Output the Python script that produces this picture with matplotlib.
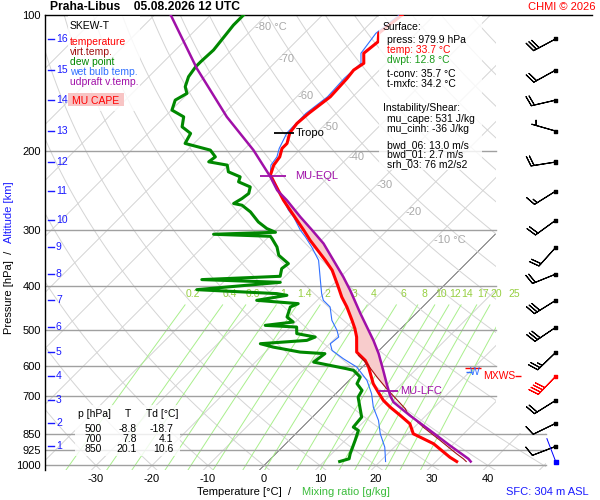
import numpy as np
import matplotlib
matplotlib.use("Agg")
import matplotlib.pyplot as plt
from matplotlib import transforms
from matplotlib.path import Path
from matplotlib.patches import Rectangle

plt.rcParams['font.family'] = ['Liberation Sans', 'DejaVu Sans']

# ---------------------------------------------------------------
# sounding data
# ---------------------------------------------------------------
temp_p = np.array([979.9, 958.5, 894.8, 850.4, 808.0, 774.3, 742.0, 717.1, 687.3, 658.3,
                   604.7, 584.3, 560.1, 518.6, 496.9, 476.2, 444.8, 422.7, 401.6, 368.6,
                   350.3, 316.2, 300.5, 271.3, 257.7, 226.8, 215.4, 206.5, 197.8, 192.8,
                   182.6, 174.1, 165.4, 151.9, 138.2, 132.5, 128.0, 121.6, 114.6, 109.8, 100.0])
temp_t = np.array([33.7, 31.7, 26.4, 21.0, 18.6, 15.4, 12.1, 9.7, 7.3, 4.9,
                   1.1, -0.7, -3.7, -6.4, -8.2, -10.2, -13.5, -16.2, -18.6, -22.7,
                   -25.7, -32.0, -34.9, -40.9, -43.9, -50.7, -51.9, -52.3, -53.4, -53.4,
                   -54.8, -55.2, -54.9, -54.0, -54.3, -54.6, -54.0, -55.8, -55.3, -56.7, -55.8])

tv_p = np.array([979.9, 966.3, 941.9, 879.9, 822.2, 761.2, 748.2, 675.5, 636.5, 594.3, 569.7])
tv_t = np.array([35.4, 34.4, 32.3, 27.0, 21.6, 16.0, 15.1, 8.2, 4.4, 0.2, -2.8])

dew_p = np.array([979.9, 966.3, 941.9, 879.9, 836.1, 822.0, 781.0, 742.1, 705.1, 681.3,
                  658.3, 636.5, 614.9, 609.9, 594.3, 589.5, 564.6, 560.1, 546.0, 536.6,
                  527.6, 518.6, 509.6, 492.8, 488.6, 480.3, 468.2, 444.8, 437.2, 429.9,
                  419.0, 415.4, 407.1, 392.1, 386.7, 380.2, 365.5, 356.3, 341.5, 327.3,
                  313.5, 309.9, 306.7, 303.6, 297.9, 288.0, 273.6, 264.4, 262.1, 255.5,
                  249.0, 240.8, 234.6, 228.7, 222.9, 215.4, 211.8, 206.5, 199.5, 192.8,
                  183.2, 177.1, 168.3, 162.6, 154.5, 149.3, 144.3, 137.1, 130.3, 127.0,
                  119.6, 109.8, 105.3, 100.0])
dew_t = np.array([12.8, 14.0, 13.3, 11.8, 10.6, 9.1, 8.8, 6.7, 4.6, 4.1,
                  2.0, 1.4, -1.0, -2.5, -7.9, -9.6, -9.1, -13.8, -19.5, -22.4,
                  -14.7, -13.8, -17.7, -18.9, -24.8, -20.4, -22.4, -23.6, -22.8, -30.8,
                  -26.3, -28.4, -43.4, -29.8, -44.3, -30.9, -32.0, -31.7, -34.9, -36.7,
                  -39.1, -39.8, -50.3, -39.6, -41.8, -44.5, -47.7, -50.4, -52.2, -51.6,
                  -51.3, -52.2, -55.2, -55.8, -58.8, -60.2, -64.1, -63.8, -65.9, -71.6,
                  -72.4, -75.1, -76.6, -79.9, -81.1, -80.2, -81.7, -82.9, -83.4, -83.4,
                  -83.2, -83.8, -84.1, -84.1])

wb_p = np.array([979.9, 910.7, 850.4, 794.3, 742.1, 693.0, 647.4, 625.6, 604.7, 579.4,
                 555.3, 536.6, 518.6, 501.2, 476.2, 444.8, 429.9, 415.4, 388.1, 350.3,
                 327.3, 311.0, 300.5, 280.7, 271.3, 257.7, 224.8, 215.4, 206.5, 197.8,
                 182.6, 165.4, 151.9, 138.2, 128.0, 121.6, 109.8, 100.0])
wb_t = np.array([21.0, 18.3, 15.1, 12.4, 9.1, 6.4, 3.2, 1.1, -1.0, -4.9,
                 -8.4, -9.9, -9.6, -11.1, -13.8, -16.5, -18.9, -20.4, -23.0, -26.9,
                 -30.5, -33.4, -35.5, -39.1, -41.2, -43.9, -51.0, -52.4, -52.8, -53.9,
                 -55.3, -55.4, -54.5, -54.8, -54.5, -56.3, -57.2, -56.3])

parc_p = np.array([979.9, 966.3, 902.6, 836.1, 774.3, 723.3, 699.0, 658.3, 614.9, 564.6,
                   527.6, 460.1, 408.4, 381.5, 356.3, 321.6, 300.5, 280.7, 257.7, 244.9,
                   228.7, 199.5, 168.3, 131.4, 100.0])
parc_t = np.array([36.2, 35.3, 29.6, 23.4, 17.1, 11.8, 10.0, 7.3, 4.3, 0.5,
                   -2.8, -9.9, -15.9, -19.5, -23.3, -29.0, -33.4, -37.9, -43.3, -46.8,
                   -50.4, -58.2, -68.9, -82.9, -97.1])

lfc_p, lfc_t = 685.0, 8.9
eql_p, eql_t = 228.0, -50.0
tropo_p, tropo_t = 183.2, -55.7

# altitude scale and winds (1..16 km)
alt_km = list(range(1, 17))
alt_p = [907, 806, 717, 634, 561, 493.5, 430, 376, 328, 285.5, 246, 212, 181, 154.5, 132.5, 113]
wind_dir = [249, 244, 238, 224, 226, 236, 238, 248, 222, 234, 238, 261, 286, 257, 241, 242]
wind_spd = [10, 10, 20, 40, 25, 30, 30, 20, 20, 20, 15, 20, 5, 20, 20, 30]
maxwind_km = 4
sfc_p, sfc_dir = 979.9, 339

p_levels = [100, 200, 300, 400, 500, 600, 700, 850, 925, 1000]
t_ticks = [-30, -20, -10, 0, 10, 20, 30, 40]
iso_lab_t = [-80, -70, -60, -50, -40, -30, -20, -10]
iso_lab_p = [106.3, 125.1, 151.4, 177.5, 206.8, 238.6, 274.2, 315.2]
mix_vals = [0.2, 0.4, 0.6, 1, 1.4, 2, 3, 4, 6, 8, 10, 12, 14, 17, 20, 25]

tab_p = [500, 700, 850]
tab_t = [-8.8, 7.8, 20.1]
tab_td = [-18.7, 4.1, 10.6]

surface_lines = [("Surface:", 'black', 0), ("press: 979.9 hPa", 'black', 1),
                 ("temp: 33.7 °C", 'red', 1), ("dwpt: 12.8 °C", '#1a9a1a', 1),
                 ("t-conv: 35.7 °C", 'black', 1), ("t-mxfc: 34.2 °C", 'black', 1)]
surface_y = [27, 40, 50, 60, 74, 84]
shear_lines = ["Instability/Shear:", "mu_cape: 531 J/kg", "mu_cinh: -36 J/kg",
               "bwd_06: 13.0 m/s", "bwd_01: 2.7 m/s", "srh_03: 76 m2/s2"]
shear_y = [108, 119.5, 129.5, 145, 154.5, 164]

C_T = '#ff0000'
C_TV = '#a01010'
C_TD = '#008800'
C_WB = '#3070ff'
C_PARC = '#a010a8'
C_MIX = '#a9ef8c'
C_MIXLAB = '#96cf40'
C_ALT = '#1a1aff'

# ---------------------------------------------------------------
# figure / skewed axes
# ---------------------------------------------------------------
W, H = 600, 500
fig = plt.figure(figsize=(6, 5), dpi=100)
ax = fig.add_axes([45 / W, 30 / H, 547 / W, 455 / H])
ax.set_yscale('log')
ax.set_ylim(1023.3, 100)
ax.set_xlim((45 - 264) / 5.6, (592 - 264) / 5.6)

y0 = ax.transData.transform((0, 1000))[1]
skew = ax.transData + transforms.Affine2D().translate(0, -y0).skew_deg(45, 0).translate(0, y0)

for s in ['right', 'bottom']:
    ax.spines[s].set_visible(False)
ax.spines['top'].set_linewidth(1.0)
ax.spines['left'].set_linewidth(1.0)

ax.set_yticks(p_levels)
ax.set_yticklabels([str(p) for p in p_levels], fontsize=8)
ax.yaxis.set_minor_locator(matplotlib.ticker.NullLocator())
ax.set_xticks(t_ticks)
ax.set_xticklabels([str(t) for t in t_ticks], fontsize=8)
ax.tick_params(which='both', length=0)
ax.tick_params(axis='y', pad=3)
ax.tick_params(axis='x', pad=3)

# clip region for the background grid
grid_clip = Path([(0, 0), (0.916, 0), (0.916, 0.081), (0.8245, 0.081), (0.8245, 1), (0, 1), (0, 0)],
                 closed=True)

p_line = np.geomspace(1050, 100, 80)
for t0 in range(-130, 70, 10):
    col, lw = ('#555555', 0.6) if t0 == 0 else ('#d4d4d4', 0.7)
    ln, = ax.plot([t0, t0], [1050, 100], color=col, lw=lw, transform=skew, zorder=1)
    ln.set_clip_path(grid_clip, ax.transAxes)

for th in range(-40, 240, 10):
    t_ad = (th + 273.15) * (p_line / 1000.0) ** 0.2857 - 273.15
    ln, = ax.plot(t_ad, p_line, color='#d4d4d4', lw=0.7, transform=skew, zorder=1)
    ln.set_clip_path(grid_clip, ax.transAxes)

p_mix = np.geomspace(1050, 440, 30)
for w in mix_vals:
    e = w * p_mix / (622.0 + w)
    lg = np.log(e / 6.112)
    td = 243.5 * lg / (17.67 - lg)
    ln, = ax.plot(td, p_mix, color=C_MIX, lw=0.7, transform=skew, zorder=1)
    ln.set_clip_path(grid_clip, ax.transAxes)
    e_l = w * 417.0 / (622.0 + w)
    lg_l = np.log(e_l / 6.112)
    ax.text(243.5 * lg_l / (17.67 - lg_l), 417.0, f"{w:g}", color=C_MIXLAB, fontsize=7.5,
            ha='center', va='center', transform=skew, zorder=2)

for p in p_levels[1:]:
    ax.axhline(p, xmax=0.916 if p >= 850 else 0.8245, color='#a0a0a0', lw=1.0, zorder=1.5)

for t, p in zip(iso_lab_t, iso_lab_p):
    lab = f"{t} °C" if t in (-80, -10) else str(t)
    ax.text(t, p, lab, color='#a8a8a8', fontsize=8, ha='left', va='center',
            transform=skew, zorder=2)

# altitude scale
blend = transforms.blended_transform_factory(ax.transAxes, ax.transData)
for km, p in zip(alt_km, alt_p):
    ax.plot([0.0055, 0.0165], [p, p], color=C_ALT, lw=1.0, transform=blend, zorder=2)
    ax.text(0.02, p, str(km), color=C_ALT, fontsize=7.5, ha='left', va='center',
            transform=blend, zorder=2)

# ---------------------------------------------------------------
# profiles
# ---------------------------------------------------------------
m_par = (parc_p < lfc_p) & (parc_p > eql_p)
m_t = (temp_p > eql_p) & (temp_p < 570)
m_tv = (tv_p >= 570) & (tv_p < lfc_p)
fill_t = np.concatenate([[lfc_t], parc_t[m_par], [eql_t], temp_t[m_t][::-1], tv_t[m_tv][::-1]])
fill_p = np.concatenate([[lfc_p], parc_p[m_par], [eql_p], temp_p[m_t][::-1], tv_p[m_tv][::-1]])
ax.fill(fill_t, fill_p, color='#f8cccc', transform=skew, zorder=2, lw=0)

ax.plot(wb_t, wb_p, color=C_WB, lw=0.8, transform=skew, zorder=3)
ax.plot(dew_t, dew_p, color=C_TD, lw=2.2, transform=skew, zorder=3)
ax.plot(temp_t, temp_p, color=C_T, lw=2.2, transform=skew, zorder=4)
ax.plot(tv_t, tv_p, color=C_TV, lw=0.8, transform=skew, zorder=4.5)
ax.plot(parc_t, parc_p, color=C_PARC, lw=1.8, transform=skew, zorder=5)

# markers: EQL, LFC, tropopause
ax.plot([eql_t], [eql_p], marker='_', ms=19, mew=1.3, color=C_PARC, transform=skew, zorder=6)
ax.annotate("MU-EQL", (eql_t, eql_p), xycoords=skew, xytext=(16, 0), textcoords='offset points',
            color=C_PARC, fontsize=8, va='center', zorder=6)
ax.plot([lfc_t], [lfc_p], marker='_', ms=14, mew=1.3, color=C_PARC, transform=skew, zorder=6)
ax.annotate("MU-LFC", (lfc_t, lfc_p), xycoords=skew, xytext=(9, 0), textcoords='offset points',
            color=C_PARC, fontsize=8, va='center', zorder=6)
ax.plot([tropo_t], [tropo_p], marker='_', ms=14, mew=1.3, color='black', transform=skew, zorder=6)
ax.annotate("Tropo", (tropo_t, tropo_p), xycoords=skew, xytext=(8.5, 0), textcoords='offset points',
            color='black', fontsize=8, va='center', zorder=6)

# ---------------------------------------------------------------
# wind barbs
# ---------------------------------------------------------------
barb_x = (555.7 - 264) / 5.6
wd = np.radians(wind_dir)
u = -np.array(wind_spd) * np.sin(wd)
v = -np.array(wind_spd) * np.cos(wd)
bcol = ['red' if km == maxwind_km else 'black' for km in alt_km]
ax.barbs(np.full(len(alt_p), barb_x), alt_p, u, v, length=6.0, lw=0.8,
         barbcolor=bcol, flagcolor=bcol, zorder=6, clip_on=False)
ax.scatter(np.full(len(alt_p), barb_x), alt_p, marker='s', s=5, c=bcol, zorder=7, clip_on=False)

sd = np.radians(sfc_dir)
ax.quiver([barb_x], [sfc_p], [np.sin(sd)], [np.cos(sd)], color='blue', scale_units='dots',
          scale=1 / 25, width=0.0018, headwidth=0, headlength=0, headaxislength=0,
          zorder=6, clip_on=False)
ax.scatter([barb_x], [sfc_p], marker='s', s=5, c='blue', zorder=7, clip_on=False)

# max wind marks
mxw_p = alt_p[alt_km.index(maxwind_km)]
ax.plot([barb_x], [mxw_p], marker='_', ms=11, mew=1.0, color='red',
        transform=transforms.offset_copy(ax.transData, fig, x=-83, y=8, units='dots'), clip_on=False)
ax.plot([barb_x], [mxw_p], marker='_', ms=5, mew=1.0, color=C_WB,
        transform=transforms.offset_copy(ax.transData, fig, x=-87, y=4, units='dots'), clip_on=False)
ax.plot([barb_x], [mxw_p], marker='_', ms=4, mew=1.0, color='red',
        transform=transforms.offset_copy(ax.transData, fig, x=-38, y=0, units='dots'), clip_on=False)
ax.annotate("W", (barb_x, mxw_p), xytext=(-54.5, 3), textcoords='offset points',
            color=C_WB, fontsize=7.5, va='center', ha='right')
ax.annotate("MXWS", (barb_x, mxw_p), xytext=(-52.5, 0), textcoords='offset points',
            color='red', fontsize=7.5, va='center', ha='left')

# ---------------------------------------------------------------
# boxes and text
# ---------------------------------------------------------------
def fx(x):
    return x / W


def fy(y):
    return 1 - y / H


def box(x0, y0_, x1, y1, color='white', alpha=0.82):
    fig.add_artist(Rectangle((fx(x0), fy(y1)), fx(x1) - fx(x0), fy(y0_) - fy(y1),
                             transform=fig.transFigure, facecolor=color, edgecolor='none',
                             alpha=alpha, zorder=2))


fig.text(fx(50), fy(7.5), "Praha-Libus    05.08.2026 12 UTC", fontsize=8.7, fontweight='bold',
         ha='left', va='center')
fig.text(fx(596), fy(7.5), "CHMI © 2026", fontsize=8, color='red', ha='right', va='center')

# legend
box(68, 16, 140, 111)
fig.text(fx(70), fy(26), "SKEW-T", fontsize=7.5, ha='left', va='center', zorder=3)
leg = [("temperature", C_T), ("virt.temp.", C_TV), ("dew point", C_TD),
       ("wet bulb temp.", C_WB), ("udpraft v.temp.", C_PARC)]
for i, (txt, col) in enumerate(leg):
    fig.text(fx(70), fy(42 + 10 * i), txt, fontsize=7.5, color=col, ha='left', va='center', zorder=3)
box(68, 93, 124, 106, color='#f8c4c4', alpha=1)
fig.text(fx(96), fy(100.5), "MU CAPE", fontsize=7.5, color='red', ha='center', va='center', zorder=3)

# surface / instability info
box(379, 16, 482, 170)
for (txt, col, ind), y in zip(surface_lines, surface_y):
    fig.text(fx(383 + 4 * ind), fy(y), txt, fontsize=7.5, color=col, ha='left', va='center', zorder=3)
for i, (txt, y) in enumerate(zip(shear_lines, shear_y)):
    fig.text(fx(383 + (4 if i else 0)), fy(y), txt, fontsize=7.5, ha='left', va='center', zorder=3)

# level table
box(75, 405, 180, 456)
fig.text(fx(78), fy(414), "p [hPa]", fontsize=7.5, ha='left', va='center', zorder=3)
fig.text(fx(127.5), fy(414), "T", fontsize=7.5, ha='center', va='center', zorder=3)
fig.text(fx(146), fy(414), "Td [°C]", fontsize=7.5, ha='left', va='center', zorder=3)
for i, (p, t, td) in enumerate(zip(tab_p, tab_t, tab_td)):
    yy = fy(429 + 10.2 * i)
    fig.text(fx(93.5), yy, str(p), fontsize=7.5, ha='center', va='center', zorder=3)
    fig.text(fx(137), yy, f"{t:.1f}", fontsize=7.5, ha='right', va='center', zorder=3)
    fig.text(fx(173.5), yy, f"{td:.1f}", fontsize=7.5, ha='right', va='center', zorder=3)

# axis titles
fig.text(fx(197), fy(492), "Temperature [°C]  /", fontsize=8, ha='left', va='center')
fig.text(fx(302), fy(492), "Mixing ratio [g/kg]", fontsize=8, color='#3cbc3c', ha='left', va='center')
fig.text(fx(9), fy(334), "Pressure [hPa]  /", fontsize=8, rotation=90, ha='center', va='bottom')
fig.text(fx(9), fy(243), "Altitude [km]", fontsize=8, color=C_ALT, rotation=90, ha='center', va='bottom')
fig.text(fx(589), fy(492), "SFC: 304 m ASL", fontsize=8, color=C_ALT, ha='right', va='center')

fig.savefig("out.png", dpi=100)
